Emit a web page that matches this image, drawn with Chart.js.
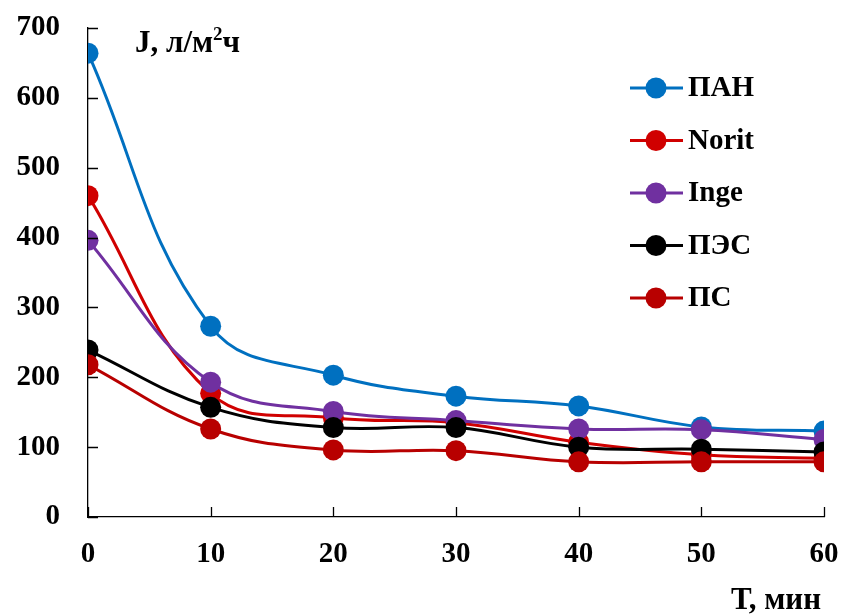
<!DOCTYPE html>
<html>
<head>
<meta charset="utf-8">
<script src="https://cdn.jsdelivr.net/npm/chart.js@4"></script>
<style>
  html, body { margin: 0; padding: 0; background: #fff; }
  #wrap { width: 844px; height: 614px; }
</style>
</head>
<body>
<div id="wrap"><canvas id="chart" width="844" height="614"></canvas></div>
<script>
// Time, min
const times = [0, 10, 20, 30, 40, 50, 60];

// Flux J, l/m2h
const panValues   = [664, 273, 203, 173, 159, 129, 123];
const noritValues = [460, 177, 142, 135, 107, 89, 84];
const ingeValues  = [396, 193, 151, 138, 126, 125, 111];
const pesValues   = [239, 157, 128, 128, 100, 97, 93];
const psValues    = [218, 126, 96, 95, 79, 79, 79];

const seriesNames  = ['ПАН', 'Norit', 'Inge', 'ПЭС', 'ПС'];
const seriesColors = ['#0070C0', '#D00000', '#7030A0', '#000000', '#B80000'];

const yTicks = [0, 100, 200, 300, 400, 500, 600, 700];
const xTicks = [0, 10, 20, 30, 40, 50, 60];

const FONT = '"Liberation Serif", "Times New Roman", serif';

function makeSet(name, values, color) {
    return {
        label: name,
        data: times.map((t, i) => ({ x: t, y: values[i] })),
        borderColor: color,
        backgroundColor: color,
        borderWidth: 3,
        pointRadius: 10.5,
        pointHoverRadius: 10.5,
        pointBorderWidth: 0,
        tension: 0.4
    };
}

const allValues = [panValues, noritValues, ingeValues, pesValues, psValues];
// draw order: later sets on top
const datasets = allValues.map((v, i) => makeSet(seriesNames[i], v, seriesColors[i])).reverse();

// inward tick marks, axis titles and legend
const decorPlugin = {
    id: 'decor',
    afterDraw(chart) {
        const ctx = chart.ctx;
        const area = chart.chartArea;
        const xs = chart.scales.x, ys = chart.scales.y;
        ctx.save();
        ctx.strokeStyle = '#000';
        ctx.lineWidth = 1.3;
        ctx.beginPath();
        yTicks.forEach(v => {
            const py = Math.round(ys.getPixelForValue(v)) + 0.5;
            ctx.moveTo(area.left, py);
            ctx.lineTo(area.left + 10, py);
        });
        xTicks.forEach(v => {
            const px = Math.round(xs.getPixelForValue(v)) + 0.5;
            ctx.moveTo(px, area.bottom);
            ctx.lineTo(px, area.bottom - 10);
        });
        ctx.stroke();

        // axis titles
        ctx.fillStyle = '#000';
        ctx.font = 'bold 31px ' + FONT;
        ctx.textBaseline = 'alphabetic';
        ctx.textAlign = 'left';
        const jx = 135, jy = 52;
        ctx.fillText('J, л/м', jx, jy);
        const w1 = ctx.measureText('J, л/м').width;
        ctx.font = 'bold 19px ' + FONT;
        ctx.fillText('2', jx + w1, jy - 12);
        const w2 = ctx.measureText('2').width;
        ctx.font = 'bold 31px ' + FONT;
        ctx.fillText('ч', jx + w1 + w2, jy);

        ctx.textAlign = 'right';
        ctx.fillText('Т, мин', 821, 609);

        // legend
        ctx.textAlign = 'left';
        ctx.textBaseline = 'middle';
        ctx.font = 'bold 29px ' + FONT;
        seriesNames.forEach((name, i) => {
            const cy = 88 + i * 52.5;
            ctx.strokeStyle = seriesColors[i];
            ctx.fillStyle = seriesColors[i];
            ctx.lineWidth = 3;
            ctx.beginPath();
            ctx.moveTo(630, cy);
            ctx.lineTo(683, cy);
            ctx.stroke();
            ctx.beginPath();
            ctx.arc(656, cy, 10.5, 0, Math.PI * 2);
            ctx.fill();
            ctx.fillStyle = '#000';
            ctx.fillText(name, 688, cy + 1);
        });
        ctx.restore();
    }
};

new Chart(document.getElementById('chart'), {
    type: 'line',
    data: { datasets: datasets },
    options: {
        responsive: false,
        animation: false,
        layout: { padding: { top: 28, right: 20, left: 0, bottom: 0 } },
        plugins: { legend: { display: false }, tooltip: { enabled: false } },
        scales: {
            x: {
                type: 'linear',
                min: 0,
                max: 60,
                afterBuildTicks: s => { s.ticks = xTicks.map(v => ({ value: v })); },
                afterFit: s => { s.height = 97; s.paddingLeft = 0; s.paddingRight = 0; },
                grid: { display: true, drawOnChartArea: false, drawTicks: false, color: '#000' },
                border: { display: true, color: '#000', width: 1.3 },
                ticks: {
                    padding: 20,
                    color: '#000',
                    font: { family: FONT, size: 29, weight: 'bold' }
                }
            },
            y: {
                min: 0,
                max: 700,
                afterBuildTicks: s => { s.ticks = yTicks.map(v => ({ value: v })); },
                afterFit: s => { s.width = 88; s.paddingTop = 0; s.paddingBottom = 0; },
                grid: { display: true, drawOnChartArea: false, drawTicks: false, color: '#000' },
                border: { display: true, color: '#000', width: 1.3 },
                ticks: {
                    padding: 28,
                    color: '#000',
                    font: { family: FONT, size: 29, weight: 'bold' }
                }
            }
        }
    },
    plugins: [decorPlugin]
});
</script>
</body>
</html>
